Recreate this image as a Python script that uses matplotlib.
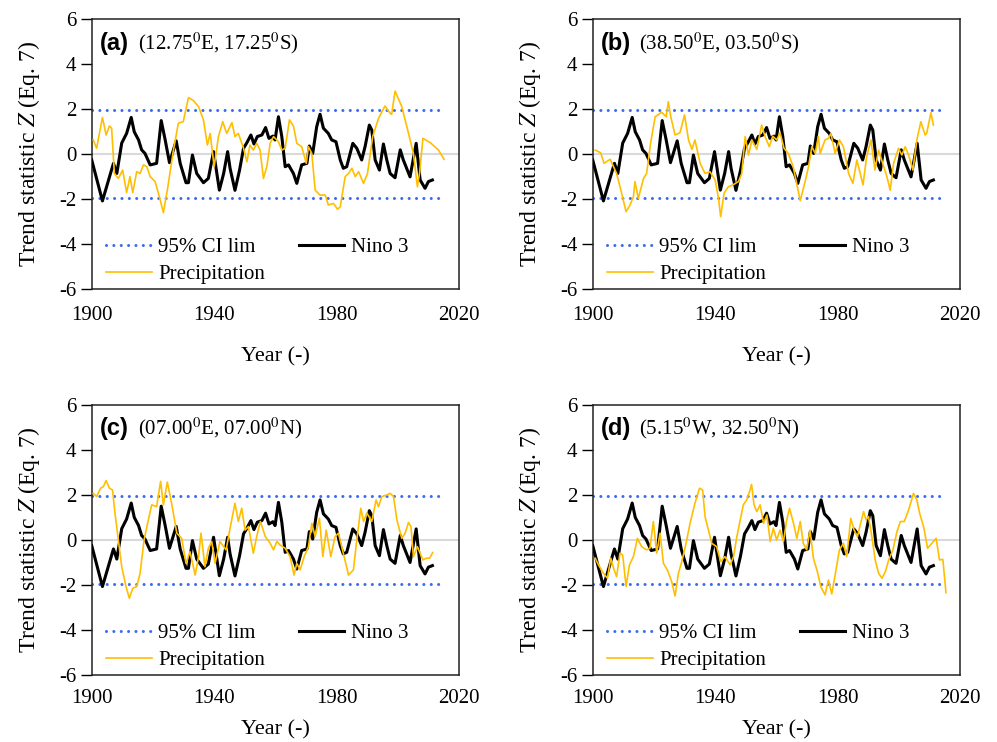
#!/usr/bin/env python3
"""Trend statistic Z of precipitation vs Nino 3 at four locations."""

import matplotlib

matplotlib.use("Agg")
import matplotlib.pyplot as plt

BLUE = "#3b6cf0"
GOLD = "#ffbf00"
ZERO = "#d9d9d9"

# Nino 3 trend statistic (same in every panel)
nino_years = [1900, 1903.5, 1907.1, 1908.2, 1909.8, 1911.4, 1912.9, 1913.9, 1915.3, 1916.3,
              1917.4, 1919.1, 1921.2, 1922.7, 1924, 1925.4, 1927.6, 1928.9, 1930.8, 1931.6,
              1932.9, 1934.3, 1936.5, 1938.1, 1939.8, 1941.7, 1943.1, 1944.4, 1945.2, 1946.8,
              1948.3, 1949.6, 1950.7, 1952, 1953, 1954.1, 1955.6, 1956.8, 1957.9, 1959.2,
              1959.9, 1961, 1962.1, 1963.2, 1964.3, 1965.9, 1967, 1968.6, 1970.3, 1971.1,
              1972.2, 1973.5, 1974.6, 1975.7, 1977.3, 1978.4, 1979.8, 1981.2, 1982.2, 1983.3,
              1985.3, 1986.6, 1988.2, 1989.3, 1990.7, 1991.5, 1992.6, 1994, 1995.3, 1996.4,
              1997.5, 1999.1, 2000.8, 2001.8, 2004, 2006, 2007.3, 2008.9, 2010, 2011.3]
nino_z = [-0.25, -2.07, -0.4, -0.85, 0.5, 0.93, 1.64, 1.0, 0.64, 0.2,
          0.04, -0.47, -0.4, 1.5, 0.64, -0.37, 0.6, -0.4, -1.26, -1.26,
          -0.03, -0.85, -1.26, -1.07, 0.12, -1.59, -0.85, 0.12, -0.62, -1.6,
          -0.7, 0.27, 0.52, 0.86, 0.46, 0.79, 0.86, 1.19, 0.71, 0.81,
          0.64, 1.67, 0.79, -0.55, -0.47, -0.85, -1.29, -0.47, -0.4, 0.37,
          0.04, 1.23, 1.78, 1.16, 0.93, 0.64, 0.56, -0.25, -0.62, -0.55,
          0.49, 0.27, -0.25, 0.34, 1.3, 1.08, -0.25, -0.7, 0.46, -0.25,
          -0.85, -1.04, 0.2, -0.25, -1.0, 0.49, -1.14, -1.51, -1.21, -1.14]

# Precipitation trend statistic, panel (a)
prec_a_years = [1900.5, 1901.6, 1903.5, 1904.7, 1905.8, 1906.5, 1907.4, 1908.7, 1910.1, 1911.4,
                1912.5, 1913.4, 1914.7, 1915.8, 1916.9, 1918, 1919.1, 1920.7, 1922.1, 1923.4,
                1924.7, 1926.7, 1928.3, 1929.9, 1931.6, 1933.2, 1934.9, 1936.5, 1937.8, 1938.7,
                1940, 1941.4, 1942.8, 1944.1, 1945.8, 1946.8, 1947.9, 1949.6, 1950.7, 1951.7,
                1952.8, 1953.9, 1955, 1956.1, 1957.2, 1958.3, 1959.4, 1961, 1962.1, 1963.2,
                1964.6, 1965.9, 1967, 1968.6, 1970.1, 1970.8, 1971.9, 1973, 1974.6, 1976.3,
                1977.3, 1979, 1980.3, 1981.2, 1982.8, 1983.9, 1985, 1986.1, 1987.2, 1988.8,
                1990.1, 1991.8, 1993.7, 1995.8, 1997.5, 1998, 1999.1, 2001.3, 2003.5, 2005.1,
                2006.4, 2007.1, 2008.2, 2010.6, 2013.3, 2015.1]
prec_a = [0.64, 0.27, 1.64, 0.86, 1.26, 1.16, -0.85, -1.07, -0.7, -1.7,
          -0.99, -1.7, -0.77, -0.85, -0.47, -0.55, -0.99, -1.21, -1.88, -2.59,
          -1.59, 0.19, 1.38, 1.45, 2.52, 2.39, 2.12, 1.53, 0.41, 0.93,
          -0.55, 0.79, 1.45, 0.93, 1.41, 0.79, 0.93, 0.27, -0.33, 0.41,
          0.19, 0.49, 0.19, -1.07, -0.55, 0.49, 0.79, 0.56, 0.19, 0.27,
          1.53, 1.26, 0.49, 0.34, -0.4, 0.34, 0.04, -1.59, -1.81, -1.81,
          -2.25, -2.18, -2.44, -2.33, -0.99, -0.85, -0.62, -0.99, -0.77, -1.29,
          -0.85, 0.79, 1.6, 2.15, 1.82, 1.78, 2.81, 2.12, 0.93, 0.04,
          -1.44, -0.85, 0.71, 0.52, 0.19, -0.22]

# panel (b)
prec_b_years = [1900.8, 1902.6, 1903.7, 1905.7, 1907.8, 1909.2, 1910.9, 1912.2, 1913.3, 1913.8,
                1914.9, 1916.6, 1917.6, 1918.9, 1920.4, 1922.5, 1924, 1924.7, 1925.5, 1926.9,
                1928.5, 1930, 1931.3, 1932.4, 1933.4, 1935.1, 1936.7, 1938.3, 1940, 1941.1,
                1941.8, 1942.9, 1944.3, 1945.8, 1947.6, 1948.7, 1949.8, 1950.9, 1952, 1953.6,
                1955.2, 1956.3, 1957.7, 1958.8, 1960.1, 1961.2, 1962.5, 1963.9, 1965.5, 1967.8,
                1969.4, 1970.5, 1971.6, 1972.7, 1973.7, 1974.3, 1975.9, 1977, 1977.8, 1979.2,
                1980.6, 1981.9, 1983.6, 1985, 1986.3, 1987.4, 1988.3, 1989.5, 1990.9, 1992.2,
                1993.4, 1994.4, 1996.1, 1997.2, 1998.3, 1999.9, 2001, 2002.1, 2003.2, 2004.6,
                2005.9, 2007.2, 2008.6, 2009.1, 2010.5, 2011.3]
prec_b = [0.19, 0.07, -0.4, -0.22, -0.85, -1.59, -2.55, -2.25, -1.88, -1.21,
          -1.96, -1.07, -0.85, 0.49, 1.67, 1.87, 1.67, 2.34, 1.67, 0.86,
          0.96, 1.75, 0.64, 0.22, 0.64, -0.4, -0.85, -0.77, -1.14, -1.96,
          -2.77, -1.73, -1.44, -1.36, -1.21, -0.85, 0.79, -0.03, 0.64, 0.22,
          1.3, 0.79, 0.34, 0.81, 0.64, 0.96, 0.27, 0.04, -0.55, -2.06,
          -1.21, -0.55, 0.34, 0.04, 0.79, 0.04, 0.64, 0.71, 0.93, 0.04,
          0.64, 0.34, -0.85, -1.29, -0.25, -0.85, -1.36, -0.1, 0.64, -0.7,
          0.19, -0.25, -0.99, -1.59, -0.4, 0.27, -0.03, 0.34, -0.03, -0.7,
          0.64, 1.45, 0.86, 0.93, 1.85, 1.3]

# panel (c)
prec_c_years = [1900.5, 1901.6, 1902.9, 1903.8, 1904.7, 1905.8, 1906.8, 1907.6, 1908.7, 1909.8,
                1911.2, 1912.3, 1913.4, 1914.7, 1915.8, 1917.1, 1918.5, 1919.6, 1921.2, 1922.5,
                1923.4, 1924.7, 1926.1, 1927.8, 1929.4, 1930.8, 1932.1, 1933.8, 1934.9, 1935.7,
                1937, 1938.1, 1939.2, 1940.3, 1941.9, 1943.9, 1945.2, 1946.8, 1947.9, 1949,
                1950.1, 1951.2, 1952.8, 1953.9, 1955.1, 1956.7, 1958.3, 1959.4, 1960.5, 1961.5,
                1963.2, 1964.8, 1966.1, 1967, 1968.1, 1969.4, 1970.8, 1971.9, 1973, 1974.4,
                1975.5, 1976.6, 1978.1, 1979.5, 1980.6, 1982.2, 1983.9, 1985.5, 1986.6, 1987.9,
                1988.8, 1989.9, 1991.5, 1992.9, 1993.7, 1994.8, 1996.4, 1997.5, 1998.6, 1999.7,
                2001.3, 2002.4, 2003.5, 2004.3, 2005.1, 2006.4, 2008.2, 2009.3, 2010.4, 2011.4]
prec_c = [2.07, 1.93, 2.3, 2.37, 2.64, 2.3, 2.22, 1.19, 0.0, -1.19,
          -2.07, -2.59, -2.15, -2.07, -1.48, 0.0, 0.89, 1.56, 1.48, 2.6,
          1.56, 2.57, 1.63, 0.3, 0.07, -1.04, -0.52, -1.56, -0.74, 0.3,
          -1.19, -0.37, -0.07, -1.04, -0.07, -0.44, 0.52, 1.63, 0.82, 1.41,
          0.44, 0.59, -0.59, 0.15, 0.82, 0.15, -0.15, -0.44, -0.07, -0.22,
          -0.37, -0.74, -1.56, -1.04, -1.33, -0.74, -0.3, 0.74, 0.15, 0.96,
          -0.74, 0.44, -0.74, 0.15, 0.3, -0.59, -1.56, -1.33, 0.0, 1.41,
          0.82, 1.19, 0.82, 1.78, 1.48, 1.93, 2.0, 2.07, 1.93, 0.89,
          0.07, 0.3, 0.78, 0.59, -0.74, -0.3, -0.89, -0.81, -0.81, -0.56]

# panel (d)
prec_d_years = [1900.8, 1901.9, 1903.5, 1904.8, 1905.9, 1906.8, 1907.8, 1908.9, 1909.8, 1910.9,
                1912, 1913.3, 1914.6, 1916, 1917.6, 1918.7, 1919.8, 1920.9, 1922, 1923.1,
                1924.4, 1925.8, 1926.9, 1928, 1929.1, 1930.5, 1931.8, 1933.4, 1934.9, 1935.9,
                1936.7, 1937.8, 1938.9, 1940.5, 1941.8, 1943.2, 1944.9, 1946, 1947.1, 1948.2,
                1949.2, 1950.3, 1951.4, 1951.9, 1952.7, 1953.6, 1954.7, 1955.8, 1956.9, 1958,
                1959, 1960.1, 1961.2, 1962.3, 1963.4, 1964.3, 1965.6, 1966.7, 1967.8, 1968.8,
                1969.9, 1971, 1972.1, 1973.4, 1974.5, 1975.9, 1977, 1978.1, 1979.2, 1980.6,
                1981.9, 1983, 1984.3, 1985.4, 1986.5, 1987.4, 1988.5, 1989.3, 1990.1, 1991.2,
                1992.3, 1993.4, 1994.5, 1995.6, 1996.7, 1998.1, 1999.4, 2000.5, 2001.8, 2003.2,
                2004.8, 2005.9, 2006.8, 2008.1, 2009.4, 2010.8, 2012.2, 2013.3, 2014.4, 2015.4]
prec_d = [-0.81, -1.11, -1.48, -1.7, -0.81, -1.26, -1.63, -0.59, -0.67, -2.07,
          -1.11, -0.74, 0.07, -0.3, -0.44, -0.37, 0.82, -0.59, 0.3, -1.04,
          -1.33, -1.85, -2.49, -1.48, -0.96, -0.15, 0.74, 1.63, 2.3, 2.22,
          1.04, 0.44, -0.15, -0.3, -0.96, -0.74, -1.11, -0.74, 0.15, 0.89,
          1.56, 1.78, 2.22, 2.47, 1.56, 1.26, 1.56, 0.74, 1.11, -0.07,
          0.52, 0.0, 0.44, -0.07, 0.89, 1.41, 0.74, 0.07, 0.82, -0.15,
          -0.44, 0.44, -0.81, -1.41, -2.07, -2.44, -1.78, -2.4, -1.56, -0.44,
          -0.15, -0.74, 0.96, 0.44, 0.15, 0.67, 1.26, 0.89, 1.04, 0.15,
          -0.89, -1.48, -1.7, -1.41, -0.89, -0.44, 0.37, 0.82, 0.82, 1.33,
          2.07, 1.78, 1.19, 0.59, -0.37, -0.15, 0.07, -0.89, -0.86, -2.34]

panel_tags = ["(a)", "(b)", "(c)", "(d)"]
panel_coords = [r"(12.75$^{\mathrm{0}}$E, 17.25$^{\mathrm{0}}$S)",
                r"(38.50$^{\mathrm{0}}$E, 03.50$^{\mathrm{0}}$S)",
                r"(07.00$^{\mathrm{0}}$E, 07.00$^{\mathrm{0}}$N)",
                r"(5.15$^{\mathrm{0}}$W, 32.50$^{\mathrm{0}}$N)"]
prec_years = [prec_a_years, prec_b_years, prec_c_years, prec_d_years]
prec_values = [prec_a, prec_b, prec_c, prec_d]
ci_limit = 1.96
ci_span = [1900, 2015.5]

plt.rcParams.update(
    {
        "font.family": "Liberation Serif",
        "mathtext.fontset": "stix",
        "axes.unicode_minus": False,
        "font.size": 15,
    }
)

DOTS = (0, (0.01, 2.4))

fig = plt.figure(figsize=(9.97, 7.42), dpi=100)
lefts = [0.092, 0.5945]
bottoms = [0.610, 0.0903]
w, h = 0.3684, 0.364
# top row and bottom row were laid out slightly differently
xtick_pad = [12, 10]
xlabel_pad = [16, 9]

for i in range(4):
    row = i // 2
    ax = fig.add_axes([lefts[i % 2], bottoms[row], w, h])
    ax.axhline(0, color=ZERO, linewidth=1.5, zorder=1)
    ci_line, = ax.plot(ci_span, [ci_limit, ci_limit], color=BLUE, linestyle=DOTS,
                       linewidth=2.2, dash_capstyle="round", label="95% CI lim")
    ax.plot(ci_span, [-ci_limit, -ci_limit], color=BLUE, linestyle=DOTS,
            linewidth=2.2, dash_capstyle="round")
    nino_line, = ax.plot(nino_years, nino_z, color="black", linewidth=2.2, label="Nino 3",
                         zorder=3, solid_joinstyle="round")
    prec_line, = ax.plot(prec_years[i], prec_values[i], color=GOLD, linewidth=1.2,
                         label="Precipitation", zorder=4, solid_joinstyle="round")

    ax.set_xlim(1900, 2020)
    ax.set_ylim(-6, 6)
    ax.set_xticks([1900, 1940, 1980, 2020])
    ax.set_yticks(range(-6, 7, 2))
    ax.tick_params(axis="y", direction="out", length=8, width=1, pad=3)
    ax.tick_params(axis="x", length=0, pad=xtick_pad[row])
    for s in ax.spines.values():
        s.set_linewidth(1.1)
        s.set_color("#222222")
    ax.set_xlabel("Year (-)", labelpad=xlabel_pad[row], fontsize=16)
    ax.set_ylabel(r"Trend statistic $Z$ (Eq. 7)", labelpad=12, fontsize=17)

    ax.text(0.023, 0.912, panel_tags[i], transform=ax.transAxes, family="Liberation Sans",
            fontweight="bold", fontsize=17, va="center", ha="left")
    ax.text(0.127, 0.912, panel_coords[i], transform=ax.transAxes, fontsize=15,
            va="center", ha="left")

    ax.legend([ci_line, prec_line, nino_line], ["95% CI lim", "Precipitation", "Nino 3"],
              ncol=2, frameon=False, loc="lower left", bbox_to_anchor=(0.0, -0.035),
              handlelength=2.2, labelspacing=0.35, columnspacing=1.6, handletextpad=0.3,
              borderaxespad=0.3, fontsize=15)

fig.savefig("out.png", dpi=100)
